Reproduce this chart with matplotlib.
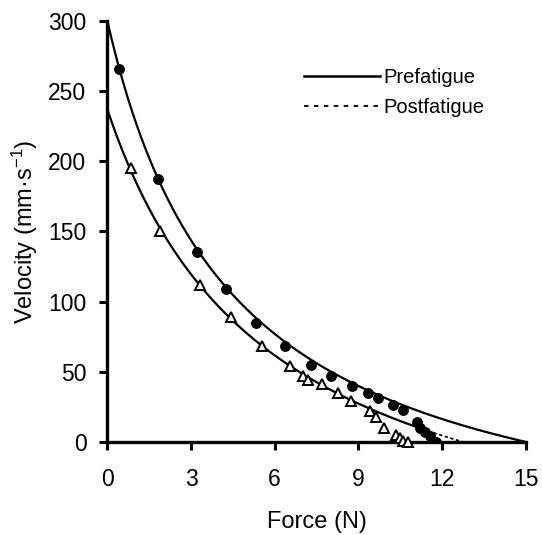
import numpy as np
import matplotlib
matplotlib.use("Agg")
import matplotlib.pyplot as plt

plt.rcParams['font.family'] = ['Liberation Sans', 'DejaVu Sans']
plt.rcParams['mathtext.default'] = 'regular'

# ===== DATA =====
pre_force = [0.43, 1.83, 3.23, 4.25, 5.32, 6.37, 7.29, 8.02, 8.76, 9.34, 9.72,
             10.25, 10.6, 11.09, 11.2, 11.39, 11.55, 11.8]
pre_velocity = [266, 187, 135, 109, 85, 68, 55, 47, 40, 35, 31,
                26, 23, 14, 10, 7, 4, 0]

post_force = [0.84, 1.89, 3.32, 4.43, 5.53, 6.55, 7.03, 7.2, 7.68, 8.28, 8.72,
              9.42, 9.63, 9.93, 10.35, 10.5, 10.61, 10.79]
post_velocity = [195, 150, 112, 89, 68, 54, 47, 44, 41, 35, 29,
                 22, 18, 10, 5, 3, 1, 0]

# Hill fits: v = b (F0 - F) / (F + a)
pre_F0, pre_Vmax, pre_a = 15.0, 300.0, 4.48
post_F0, post_Vmax, post_a = 12.75, 237.0, 5.8


def hill(F, F0, Vmax, a):
    b = Vmax * a / F0
    return b * (F0 - F) / (F + a)


fig = plt.figure(figsize=(5.42, 5.35), dpi=100)
ax = fig.add_axes([0.198, 0.174, 0.772, 0.787])

F_pre = np.linspace(0, pre_F0, 300)
ax.plot(F_pre, hill(F_pre, pre_F0, pre_Vmax, pre_a), color='black', lw=1.6,
        zorder=3)

# postfatigue fit: solid over the data, dashed tail to the intercept
F_post_solid = np.linspace(0, 11.3, 300)
F_post_tail = np.linspace(11.3, post_F0, 60)
ax.plot(F_post_solid, hill(F_post_solid, post_F0, post_Vmax, post_a),
        color='black', lw=1.6, zorder=3)
ax.plot(F_post_tail, hill(F_post_tail, post_F0, post_Vmax, post_a),
        color='black', lw=1.2, ls=(0, (2, 1.5)), zorder=3)

ax.plot(pre_force, pre_velocity, 'o', color='black', ms=6.8, zorder=4)
ax.plot(post_force, post_velocity, '^', mfc='white', mec='black', mew=1.4,
        ms=6.5, zorder=4, clip_on=False)

# legend: lines only
h1, = ax.plot([], [], color='black', lw=1.8)
h2, = ax.plot([], [], color='black', lw=1.3, ls=(0, (2.5, 3)))
fig.legend([h1, h2], ['Prefatigue', 'Postfatigue'], loc='upper left',
           bbox_to_anchor=(0.561, 0.872), bbox_transform=fig.transFigure,
           frameon=False, fontsize=14.5, borderpad=0, borderaxespad=0,
           handlelength=3.75, handletextpad=0.2, labelspacing=0.5)

ax.set_xlim(0, 15)
ax.set_ylim(0, 300)
ax.set_xticks(range(0, 16, 3))
ax.set_yticks(range(0, 301, 50))
ax.tick_params(direction='out', length=6, width=2.2, labelsize=16.5)
ax.tick_params(axis='x', pad=13)
ax.tick_params(axis='y', pad=9)

for s in ['top', 'right']:
    ax.spines[s].set_visible(False)
for s in ['left', 'bottom']:
    ax.spines[s].set_linewidth(2.4)

ax.set_xlabel('Force (N)', fontsize=17, labelpad=14)
ax.set_ylabel('Velocity (mm·s$^{-1}$)', fontsize=17, labelpad=6)

fig.savefig('out.png', dpi=100)
